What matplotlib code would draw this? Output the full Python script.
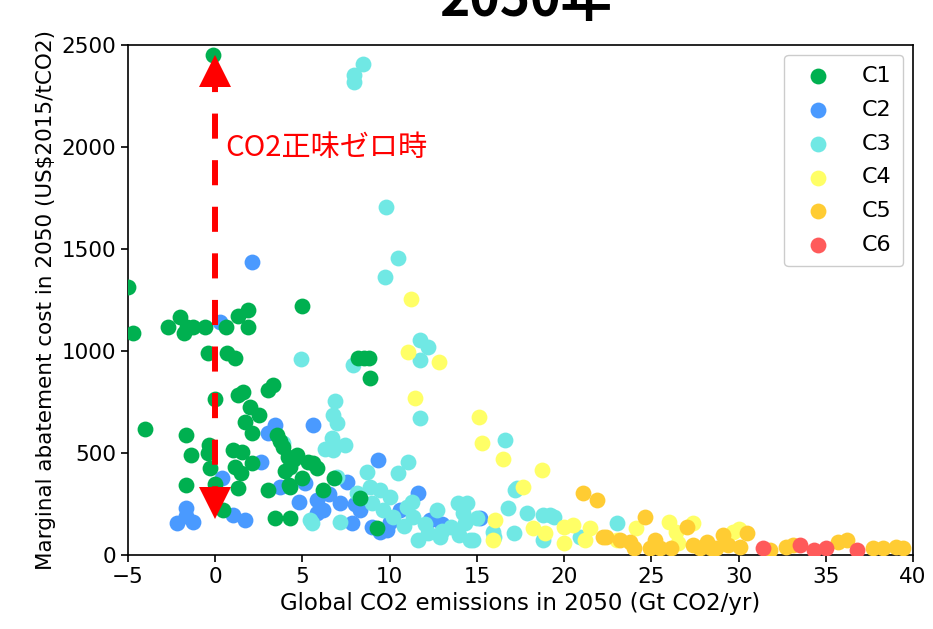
import matplotlib
matplotlib.use("Agg")
import matplotlib.pyplot as plt
from matplotlib.transforms import offset_copy

# ---- data ----
c1_x = [-0.1, -5.0, -4.7, -4.0, -2.7, -2.0, -1.8, -1.6, -1.3, -0.6, 0.6, 1.3, 1.9, 1.9,
        -0.4, 0.7, 1.15, 5.0, 0.0, 1.3, 1.6, 3.0, 3.3, 2.0, 2.5, 1.7, -1.7, -1.4, -0.35,
        -0.4, -0.3, -1.7, 1.0, 1.55, 1.15, 1.45, 1.3, 2.1, 2.1, 3.0, 3.45, 4.3, 0.45, 3.55,
        3.9, 4.15, 4.3, 4.2, 4.7, 5.3, 5.6, 5.85, 6.2, 6.8, 4.3, 8.2, 8.5, 8.8, 8.85, 9.3,
        8.3, 0.0, 3.7, 4.0, 4.5, 5.0]
c1_y = [2450, 1315, 1090, 620, 1117, 1166, 1088, 1117, 1117, 1117, 1117, 1171, 1200, 1117,
        990, 990, 965, 1220, 764, 784, 799, 809, 833, 725, 686, 652, 588, 490, 539,
        500, 426, 343, 514, 505, 431, 402, 328, 451, 598, 318, 181, 181, 220, 588,
        529, 480, 431, 343, 490, 456, 451, 426, 318, 377, 333, 965, 965, 965, 867, 132,
        279, 350, 560, 410, 470, 380]

c2_x = [2.1, 0.3, -1.7, -2.2, -1.3, -1.7, 1.0, 1.7, 2.6, 3.4, 3.0, 3.7, 0.4, 5.6, 9.35,
        5.16, 5.85, 5.85, 7.17, 7.57, 7.86, 9.0, 9.86, 8.3, 10.6, 11.64, 12.3, 9.46, 15.2,
        6.5, 8.0, 10.0, 13.0, 4.8, 6.2]
c2_y = [1436, 1142, 230, 157, 162, 190, 196, 172, 456, 637, 598, 333, 377, 637, 466,
        353, 270, 206, 255, 358, 157, 137, 122, 220, 220, 304, 172, 113, 181,
        300, 250, 160, 150, 260, 220]

c3_x = [8.47, 7.93, 7.93, 9.79, 10.5, 9.75, 4.91, 11.75, 12.2, 11.75, 7.9, 6.88, 6.77, 7.0,
        6.71, 7.45, 6.77, 11.75, 16.6, 17.2, 17.9, 19.2, 3.9, 5.45, 11.07, 10.5, 8.7, 7.0,
        8.9, 9.46, 10.0, 8.14, 9.0, 9.63, 10.2, 11.0, 11.35, 11.6, 12.2, 12.9, 12.7, 13.9,
        14.2, 14.6, 5.56, 7.17, 13.5, 17.3, 16.8, 14.45, 14.8, 14.3, 15.9, 17.1, 18.8, 19.4,
        18.8, 20.9, 23.05, 12.0, 13.0, 15.0, 10.8, 11.3, 14.0, 16.0, 6.3]
c3_y = [2409, 2352, 2318, 1707, 1455, 1362, 960, 1054, 1020, 955, 931, 755, 686, 647,
        573, 539, 515, 671, 563, 318, 206, 196, 549, 172, 456, 402, 407, 382,
        333, 318, 284, 304, 255, 220, 186, 235, 186, 73, 108, 88, 220, 255,
        206, 73, 157, 162, 137, 328, 230, 255, 73, 157, 113, 108, 196, 186,
        73, 88, 157, 150, 120, 180, 140, 260, 100, 90, 520]

c4_x = [11.2, 11.07, 12.84, 11.47, 15.1, 15.3, 16.5, 18.75, 17.66, 16.05, 15.9, 18.2, 18.9,
        20.0, 20.0, 20.5, 21.5, 21.2, 26.0, 27.4, 24.1, 29.7, 23.05, 26.4, 26.5, 30.0]
c4_y = [1254, 995, 946, 769, 676, 549, 470, 416, 333, 172, 73, 132, 108,
        137, 59, 147, 132, 73, 162, 157, 132, 113, 73, 113, 59, 127]

c5_x = [21.1, 21.9, 22.25, 24.66, 27.06, 22.4, 23.8, 24.0, 25.2, 24.9, 27.4, 28.2, 27.8,
        28.4, 29.1, 30.5, 29.4, 30.1, 31.8, 32.7, 33.1, 35.7, 36.2, 37.7, 38.3, 39.0, 39.4,
        25.5, 26.1, 28.7, 23.2]
c5_y = [304, 270, 88, 186, 137, 88, 64, 34, 73, 34, 49, 64, 34,
        34, 98, 108, 49, 39, 25, 39, 49, 64, 73, 34, 34, 39, 34,
        34, 34, 34, 73]

c6_x = [31.4, 33.5, 34.3, 35.0, 36.8]
c6_y = [34, 49, 25, 34, 25]

series = [
    ("C1", c1_x, c1_y, "#00B050"),
    ("C2", c2_x, c2_y, "#4A9AFF"),
    ("C3", c3_x, c3_y, "#70E8E4"),
    ("C4", c4_x, c4_y, "#FFFF66"),
    ("C5", c5_x, c5_y, "#FFCC33"),
    ("C6", c6_x, c6_y, "#FF5A5A"),
]
# draw order (C1 sits over C2/C3 in the picture)
draw_order = ["C2", "C3", "C1", "C4", "C5", "C6"]

arrow_x = 0.0
arrow_top = 2450        # tip of upper head
arrow_bottom = 175      # tip of lower head
shaft_top = 2391
shaft_bottom = 330
note_text = "CO2正味ゼロ時"

# ---- figure ----
plt.rcParams['font.size'] = 16
plt.rcParams['axes.linewidth'] = 1.2

fig = plt.figure(figsize=(9.33, 6.29), dpi=100)
ax = fig.add_axes([0.1372, 0.1176, 0.8414, 0.8109])

handles = {}
for z, name in enumerate(draw_order):
    for lab, xs, ys, col in series:
        if lab == name:
            handles[lab] = ax.scatter(xs, ys, s=130, color=col, linewidths=0,
                                      label=lab, zorder=2 + z)

ax.set_xlim(-5, 40)
ax.set_ylim(0, 2500)
ax.set_xticks(range(-5, 41, 5))
ax.set_yticks(range(0, 2501, 500))
ax.tick_params(width=1.2, length=5, labelsize=15.5)
ax.set_xlabel("Global CO2 emissions in 2050 (Gt CO2/yr)", fontsize=16.5)
ax.set_ylabel("Marginal abatement cost in 2050 (US\\$2015/tCO2)", fontsize=15.5)

leg = ax.legend([handles[s[0]] for s in series], [s[0] for s in series],
                loc="upper right", borderaxespad=0.45, handletextpad=1.0,
                labelspacing=0.62, borderpad=0.5, framealpha=1)
leg.set_zorder(20)

# red dashed double arrow at net zero
ms = 23
top_tr = offset_copy(ax.transData, fig=fig, y=-ms / 2, units="points")
bot_tr = offset_copy(ax.transData, fig=fig, y=ms / 2, units="points")
ax.plot([arrow_x], [arrow_top], marker="^", ms=ms, color="red", mew=0,
        transform=top_tr, zorder=15, clip_on=False)
ax.plot([arrow_x], [arrow_bottom], marker="v", ms=ms, color="red", mew=0,
        transform=bot_tr, zorder=15, clip_on=False)
ax.plot([arrow_x, arrow_x], [shaft_top, shaft_bottom], color="red",
        lw=4.3, dashes=(4.2, 3.6), zorder=14, solid_capstyle="butt")

ax.text(0.55, 1995, note_text, color="red", fontsize=21, va="center", ha="left",
        family=["Noto Sans CJK JP", "DejaVu Sans"], zorder=16)

fig.text(0.563, 0.974, "2050年", fontsize=37, fontweight="bold", ha="center",
         va="baseline", family=["Noto Sans CJK JP", "DejaVu Sans"])

fig.savefig("out.png", dpi=100)
